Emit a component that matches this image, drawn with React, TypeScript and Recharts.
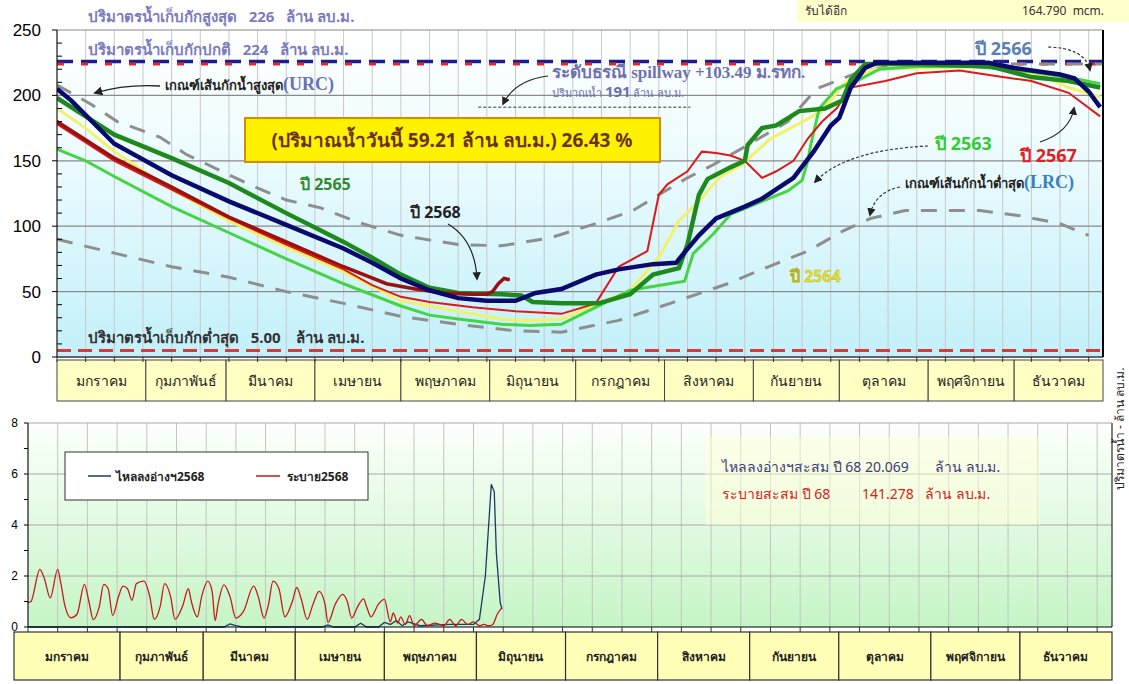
import React from 'react';
import { ComposedChart, Line, XAxis, YAxis, CartesianGrid, ReferenceLine } from 'recharts';

// months (day-of-year axis)
const monthNames = ['มกราคม', 'กุมภาพันธ์', 'มีนาคม', 'เมษายน', 'พฤษภาคม', 'มิถุนายน', 'กรกฎาคม', 'สิงหาคม', 'กันยายน', 'ตุลาคม', 'พฤศจิกายน', 'ธันวาคม'];
const monthStarts = [0, 31, 59, 90, 120, 151, 181, 212, 243, 273, 304, 334, 365];
const monthMids = monthStarts.slice(0, 12).map((s, i) => (s + monthStarts[i + 1]) / 2);

// storage, million m3
const days2563 = [0, 10, 20, 40, 60, 80, 100, 120, 130, 140, 155, 165, 176, 200, 219, 222, 229, 235, 246, 255, 260, 262, 263, 266, 272, 280, 287, 300, 320, 340, 355, 364];
const vol2563 = [159, 150, 138, 115, 95, 75, 56, 39, 32, 29, 25, 24, 25, 51, 58, 79, 94, 109, 119, 127, 135, 150, 162, 190, 205, 212, 220, 222, 222, 218, 213, 209];

const days2564 = [0, 10, 20, 40, 60, 80, 100, 120, 140, 155, 165, 176, 189, 200, 210, 217, 224, 231, 239, 249, 256, 267, 275, 285, 300, 330, 345, 353, 364];
const vol2564 = [190, 175, 157, 128, 104, 84, 65, 43, 35, 29, 28, 29, 41, 51, 76, 104, 119, 137, 147, 167, 175, 188, 210, 220, 221, 222, 214, 206, 199];

const days2565 = [0, 10, 20, 40, 60, 80, 100, 110, 120, 130, 140, 155, 162, 166, 176, 189, 200, 208, 217, 220, 224, 227, 235, 240, 241, 246, 251, 259, 268, 274, 277, 282, 300, 326, 340, 353, 364];
const vol2565 = [198, 184, 170, 152, 133, 110, 88, 76, 63, 53, 49, 48, 47, 42, 41, 41, 48, 63, 68, 86, 124, 136, 145, 150, 162, 175, 177, 188, 190, 196, 212, 224, 224, 222, 214, 211, 206];

const days2566 = [0, 5, 20, 40, 60, 80, 100, 110, 120, 130, 140, 150, 160, 167, 176, 188, 196, 208, 216, 219, 224, 230, 240, 246, 257, 264, 270, 273, 277, 282, 286, 300, 325, 334, 350, 355, 360, 364];
const vol2566 = [205, 196, 163, 139, 119, 101, 83, 72, 60, 51, 45, 43, 43, 49, 52, 63, 67, 71, 72, 80, 93, 106, 115, 121, 137, 157, 177, 183, 206, 221, 225, 225, 225, 221, 216, 213, 203, 191];

const days2567 = [0, 20, 40, 60, 80, 100, 110, 120, 130, 145, 160, 176, 188, 196, 206, 210, 213, 220, 225, 230, 235, 240, 246, 251, 257, 262, 267, 272, 277, 289, 300, 315, 327, 340, 353, 364];
const vol2567 = [178, 150, 128, 106, 86, 67, 55, 46, 42, 38, 35, 33, 41, 69, 81, 124, 132, 142, 157, 156, 154, 150, 137, 142, 150, 167, 180, 190, 206, 211, 217, 219, 215, 211, 202, 184];

const days2568 = [0, 20, 40, 60, 80, 100, 115, 125, 135, 145, 150, 152, 154, 156, 158];
const vol2568 = [180, 152, 130, 107, 88, 69, 56, 52, 49, 48, 48, 50, 56, 60, 59];

// rule curves
const daysUrc = [0, 12, 21, 36, 45, 67, 80, 92, 105, 120, 140, 155, 172, 188, 201, 210, 220, 229, 241, 255, 265, 280, 295, 365];
const volUrc = [208, 193, 180, 168, 155, 132, 120, 114, 103, 93, 86, 85, 91, 102, 112, 124, 137, 147, 162, 180, 205, 218, 224, 224];
const daysLrc = [0, 17, 40, 60, 80, 100, 120, 140, 160, 176, 196, 214, 234, 246, 262, 274, 284, 296, 308, 322, 336, 350, 360];
const volLrc = [90, 81, 69, 61, 50, 41, 31, 25, 20, 19, 28, 41, 56, 67, 81, 96, 106, 112, 112, 112, 108, 102, 93];

// daily flow 2568, million m3
const daysOut = [0, 1, 4, 5.5, 7.5, 10, 11, 12.5, 14.5, 16.5, 19, 20.5, 22, 24, 25.5, 27, 28.5, 30.5, 32, 33.5, 35, 36.5, 39, 41, 42.5, 44.5, 46, 48, 49.5, 52, 54, 55, 57, 58.5, 60.5, 62, 63, 64, 66, 68, 70, 72.5, 76, 77.5, 79.5, 81, 82.5, 84.5, 86.5, 89, 90.5, 92, 94, 96, 98, 100, 101, 103.5, 106, 107.5, 109, 111, 113, 114, 115.5, 118, 120, 122, 123, 124.5, 125.5, 127, 128.5, 130, 132.5, 134.5, 137, 140, 142, 144, 146, 148, 150, 152, 153.5, 155, 156.5, 158, 159.5];
const flowOut = [0.95, 1.0, 2.26, 1.9, 1.14, 2.26, 1.75, 0.8, 0.36, 0.5, 1.67, 1.0, 0.29, 0.8, 1.67, 1.5, 0.45, 1.2, 1.6, 1.5, 1.05, 1.7, 1.8, 1.2, 0.3, 0.8, 1.7, 1.2, 0.3, 0.8, 1.5, 1.0, 0.4, 1.2, 1.8, 1.4, 0.25, 0.9, 1.65, 1.2, 0.35, 0.6, 1.6, 1.2, 0.35, 0.9, 1.8, 1.5, 0.4, 1.0, 1.55, 1.1, 0.3, 0.9, 1.4, 0.9, 0.18, 0.9, 1.28, 1.0, 0.35, 0.8, 1.1, 0.8, 0.4, 0.9, 1.08, 0.2, 0.55, 0.15, 0.4, 0.1, 0.45, 0.05, 0.3, 0.05, 0.15, 0.05, 0.3, 0.05, 0.3, 0.1, 0.2, 0.05, 0.1, 0.05, 0.1, 0.5, 0.75, 0.78, 0.6];
const daysIn = [0, 66, 68, 70, 72, 99, 101, 103, 110, 112, 114, 118, 120, 122, 124, 126, 128, 132, 142, 150, 152, 154, 156, 157, 157.7, 159, 159.6];
const flowIn = [0, 0, 0.12, 0.05, 0, 0, 0.08, 0, 0, 0.15, 0, 0, 0.18, 0.1, 0.25, 0.05, 0.2, 0.05, 0.1, 0.1, 0.3, 2.0, 5.6, 5.3, 2.9, 0.95, 0.7];

const pts = (d: number[], v: number[]) => d.map((x, i) => ({ d: x, v: v[i] }));

const THAI = "Tahoma, 'Noto Sans', 'DejaVu Sans', sans-serif";
const SERIF = "'Liberation Serif', 'DejaVu Serif', serif";
const PRE = { whiteSpace: 'pre' as const };

// top chart frame
const TOP_LEFT = 57;
const TOP_RIGHT_W = 26;
const TOP_MARGIN = 30;
const TOP_H = 405;
const TOP_AXIS_H = 48;
const TOP_BOTTOM = TOP_H - TOP_AXIS_H; // 357
const TOP_PX_DAY = (1129 - TOP_LEFT - TOP_RIGHT_W) / 365;

// bottom chart frame
const BOT_TOP = 410;
const BOT_LEFT = 28;
const BOT_RIGHT_M = 17;
const BOT_MARGIN = 13;
const BOT_H = 274;
const BOT_AXIS_H = 57;
const BOT_BOTTOM = BOT_H - BOT_AXIS_H; // 217 (chart coords)
const BOT_PX_DAY = (1129 - BOT_LEFT - BOT_RIGHT_M) / 365;

const gridX = ({ offset }: any) => {
  const out: number[] = [];
  for (let d = 0; d <= 365; d += 10) out.push(offset.left + (d * offset.width) / 365);
  return out;
};

// small ticks every 10 days under the axis line, inside one month
const tenDayTicks = (i: number, x0: number, pxDay: number, y: number) => {
  const out: React.ReactNode[] = [];
  for (let d = Math.ceil(monthStarts[i] / 10) * 10; d < monthStarts[i + 1]; d += 10) {
    const xx = x0 + (d - monthStarts[i]) * pxDay;
    out.push(<line key={d} x1={xx} x2={xx} y1={y} y2={y + 5} stroke="#333" />);
  }
  return out;
};

const TopMonthTick = (props: any) => {
  const { x, payload } = props;
  const i = monthMids.indexOf(payload.value);
  const w = (monthStarts[i + 1] - monthStarts[i]) * TOP_PX_DAY;
  return (
    <g>
      <rect x={x - w / 2} y={TOP_BOTTOM + 3} width={w} height={41} fill="#ffffc4" stroke="#444" strokeWidth={1} />
      {tenDayTicks(i, x - w / 2, TOP_PX_DAY, TOP_BOTTOM)}
      <text x={x} y={TOP_BOTTOM + 29} textAnchor="middle" fontSize={14} fill="#222" fontFamily={THAI}>{monthNames[i]}</text>
    </g>
  );
};

const BotMonthTick = (props: any) => {
  const { x, payload } = props;
  const i = monthMids.indexOf(payload.value);
  const w = (monthStarts[i + 1] - monthStarts[i]) * BOT_PX_DAY;
  const x0 = i === 0 ? 14 : x - w / 2;
  const x1 = x + w / 2;
  return (
    <g>
      {tenDayTicks(i, x - w / 2, BOT_PX_DAY, BOT_BOTTOM)}
      <rect x={x0} y={BOT_BOTTOM + 5} width={x1 - x0} height={48} fill="#ffffb8" stroke="#333" strokeWidth={1.2} />
      <text x={(x0 + x1) / 2} y={BOT_BOTTOM + 34} textAnchor="middle" fontSize={12} fontWeight="bold" fill="#222" fontFamily={THAI}>{monthNames[i]}</text>
    </g>
  );
};

const TopLeftTick = (props: any) => {
  const { y, payload } = props;
  const v = payload.value;
  if (v % 50 === 0) {
    return (
      <g>
        <line x1={TOP_LEFT - 5} x2={TOP_LEFT} y1={y} y2={y} stroke="#000" />
        <text x={TOP_LEFT - 16} y={y + 6} textAnchor="end" fontSize={17} fill="#000" fontFamily="'Liberation Sans', Arial, sans-serif">{v}</text>
      </g>
    );
  }
  return <line x1={TOP_LEFT} x2={TOP_LEFT + 5} y1={y} y2={y} stroke="#000" />;
};

const TopRightTick = (props: any) => {
  const { y, payload } = props;
  const x0 = 1129 - TOP_RIGHT_W;
  return (
    <g>
      <line x1={x0 - 4} x2={x0 + 4} y1={y} y2={y} stroke="#000" />
      <text x={x0 + 8} y={y + 4} fontSize={10} fill="#222" fontFamily={SERIF}>{payload.value}</text>
    </g>
  );
};

const BotLeftTick = (props: any) => {
  const { y, payload } = props;
  const v = payload.value;
  if (v % 2 === 0) {
    return (
      <g>
        <line x1={BOT_LEFT - 4} x2={BOT_LEFT} y1={y} y2={y} stroke="#000" />
        <text x={BOT_LEFT - 10} y={y + 4} textAnchor="end" fontSize={12} fill="#000" fontFamily="'Liberation Sans', Arial, sans-serif">{v}</text>
      </g>
    );
  }
  return <line x1={BOT_LEFT - 4} x2={BOT_LEFT} y1={y} y2={y} stroke="#000" />;
};

const StorageChart = () => (
  <ComposedChart width={1129} height={TOP_H} margin={{ top: TOP_MARGIN, right: 0, bottom: 0, left: 0 }}>
    <CartesianGrid horizontal={false} stroke="#c9c9c9" verticalCoordinatesGenerator={gridX} />
    <XAxis dataKey="d" type="number" domain={[0, 365]} ticks={monthMids} interval={0} height={TOP_AXIS_H}
      tick={<TopMonthTick />} tickLine={false} axisLine={{ stroke: '#666', strokeWidth: 2 }} allowDataOverflow />
    <YAxis type="number" domain={[0, 250]} ticks={Array.from({ length: 26 }, (_, i) => i * 10)} interval={0}
      width={TOP_LEFT} tick={<TopLeftTick />} tickLine={false} axisLine={{ stroke: '#000' }} />
    <YAxis yAxisId="r" orientation="right" type="number" domain={[0, 250]} ticks={[0, 50, 100, 150, 200, 250]}
      width={TOP_RIGHT_W} tick={<TopRightTick />} tickLine={false} axisLine={{ stroke: '#000', strokeWidth: 2 }} />
    {[50, 100, 150, 200, 250].map((v) => (
      <ReferenceLine key={v} y={v} stroke="#8a8a8a" strokeWidth={1.2} />
    ))}
    <ReferenceLine y={226} stroke="#1c1c8c" strokeWidth={3.5} strokeDasharray="16 8" />
    <ReferenceLine y={224} stroke="#e02828" strokeWidth={3} strokeDasharray="7 17" />
    <ReferenceLine y={5} stroke="#d83a3a" strokeWidth={3} strokeDasharray="14 7" />
    <ReferenceLine segment={[{ x: 147, y: 191 }, { x: 221, y: 191 }]} stroke="#333" strokeDasharray="3 2" />
    <Line data={pts(daysUrc, volUrc)} dataKey="v" stroke="#8e8e8e" strokeWidth={3} strokeDasharray="16 12" dot={false} isAnimationActive={false} />
    <Line data={pts(daysLrc, volLrc)} dataKey="v" stroke="#8e8e8e" strokeWidth={3} strokeDasharray="16 12" dot={false} isAnimationActive={false} />
    <Line data={pts(days2564, vol2564)} dataKey="v" stroke="#f2f26a" strokeWidth={3} dot={false} isAnimationActive={false} />
    <Line data={pts(days2563, vol2563)} dataKey="v" stroke="#44d444" strokeWidth={3} dot={false} isAnimationActive={false} />
    <Line data={pts(days2567, vol2567)} dataKey="v" stroke="#e01818" strokeWidth={2} dot={false} isAnimationActive={false} />
    <Line data={pts(days2565, vol2565)} dataKey="v" stroke="#1e8a1e" strokeWidth={4.5} dot={false} isAnimationActive={false} />
    <Line data={pts(days2568, vol2568)} dataKey="v" stroke="#9b1010" strokeWidth={3.5} dot={false} isAnimationActive={false} />
    <Line data={pts(days2566, vol2566)} dataKey="v" stroke="#0a0a6e" strokeWidth={4.5} dot={false} isAnimationActive={false} />
  </ComposedChart>
);

const FlowChart = () => (
  <ComposedChart width={1129} height={BOT_H} margin={{ top: BOT_MARGIN, right: BOT_RIGHT_M, bottom: 0, left: 0 }}>
    <CartesianGrid horizontal={false} stroke="#c4c4c4" verticalCoordinatesGenerator={gridX} />
    <XAxis dataKey="d" type="number" domain={[0, 365]} ticks={monthMids} interval={0} height={BOT_AXIS_H}
      tick={<BotMonthTick />} tickLine={false} axisLine={{ stroke: '#000' }} allowDataOverflow />
    <YAxis type="number" domain={[0, 8]} ticks={[0, 1, 2, 3, 4, 5, 6, 7, 8]} interval={0}
      width={BOT_LEFT} tick={<BotLeftTick />} tickLine={false} axisLine={{ stroke: '#000' }} />
    {[2, 4, 6, 8].map((v) => (
      <ReferenceLine key={v} y={v} stroke="#a8a8a8" />
    ))}
    <ReferenceLine x={365} stroke="#555" strokeWidth={1.5} />
    <Line data={pts(daysIn, flowIn)} dataKey="v" stroke="#1d3a66" strokeWidth={1.3} dot={false} isAnimationActive={false} />
    <Line data={pts(daysOut, flowOut)} dataKey="v" type="monotone" stroke="#c41a1a" strokeWidth={1.3} dot={false} isAnimationActive={false} />
  </ComposedChart>
);

const Notes = () => (
  <svg width={1129} height={684} style={{ position: 'absolute', left: 0, top: 0, pointerEvents: 'none' }}>
    <defs>
      <marker id="ah" viewBox="0 0 10 10" refX="8" refY="5" markerWidth="7" markerHeight="7" orient="auto-start-reverse">
        <path d="M0,0 L10,5 L0,10 z" fill="#222" />
      </marker>
    </defs>
    {/* header */}
    <text x={88} y={22} fontSize={15} fontWeight="bold" fill="#7b7bbd" fontFamily={THAI} style={PRE}>ปริมาตรน้ำเก็บกักสูงสุด   226   ล้าน ลบ.ม.</text>
    <text x={88} y={55} fontSize={15} fontWeight="bold" fill="#7b7bbd" fontFamily={THAI} style={PRE}>ปริมาตรน้ำเก็บกักปกติ   224   ล้าน ลบ.ม.</text>
    <text x={88} y={343} fontSize={15} fontWeight="bold" fill="#333" fontFamily={THAI} style={PRE}>ปริมาตรน้ำเก็บกักต่ำสุด   5.00    ล้าน ลบ.ม.</text>
    <rect x={797} y={-4} width={332} height={26} fill="#ffffcc" />
    <text x={805} y={15} fontSize={12} fill="#333" fontFamily={THAI}>รับได้อีก</text>
    <text x={1022} y={15} fontSize={12} fill="#333" fontFamily={THAI} style={PRE}>164.790  mcm.</text>
    {/* today box */}
    <rect x={245} y={118} width={415} height={44} fill="#fff200" stroke="#d88a00" strokeWidth={2} />
    <text x={452} y={147} textAnchor="middle" fontSize={19} fontWeight="bold" fill="#6a3010" fontFamily={THAI}>(ปริมาณน้ำวันนี้ 59.21 ล้าน ลบ.ม.) 26.43 %</text>
    {/* rule curve notes */}
    <text x={165} y={90} fontSize={13} fontWeight="bold" fill="#222" fontFamily={THAI}>เกณฑ์เส้นกักน้ำสูงสุด<tspan fontSize={18} fill="#6a70b5" fontFamily={SERIF}>(URC)</tspan></text>
    <path d="M160,86 Q125,84 95,93" fill="none" stroke="#222" strokeWidth={1.3} markerEnd="url(#ah)" />
    <text x={905} y={188} fontSize={13} fontWeight="bold" fill="#222" fontFamily={THAI}>เกณฑ์เส้นกักน้ำต่ำสุด<tspan fontSize={18} fill="#3a7fc0" fontFamily={SERIF}>(LRC)</tspan></text>
    <path d="M900,187 Q875,192 870,215" fill="none" stroke="#333" strokeWidth={1.2} strokeDasharray="3 2" markerEnd="url(#ah)" />
    {/* spillway */}
    <text x={552} y={78} fontSize={17} fontWeight="bold" fill="#7070b0" fontFamily={SERIF}>ระดับธรณี spillway +103.49 ม.รทก.</text>
    <text x={552} y={97} fontSize={11} fill="#7070b0" fontFamily={THAI}>ปริมาณน้ำ <tspan fontSize={15} fontWeight="bold">191</tspan> ล้าน ลบ.ม.</text>
    <path d="M548,76 Q515,80 503,104" fill="none" stroke="#222" strokeWidth={1.2} markerEnd="url(#ah)" />
    {/* year labels */}
    <text x={300} y={190} fontSize={16} fontWeight="bold" fill="#2e8b2e" fontFamily={THAI}>ปี 2565</text>
    <text x={410} y={218} fontSize={16} fontWeight="bold" fill="#222" fontFamily={THAI}>ปี 2568</text>
    <path d="M448,224 Q475,240 477,279" fill="none" stroke="#222" strokeWidth={1.2} markerEnd="url(#ah)" />
    <text x={935} y={150} fontSize={18} fontWeight="bold" fill="#33cc33" fontFamily={THAI}>ปี 2563</text>
    <path d="M928,146 Q845,150 815,182" fill="none" stroke="#333" strokeWidth={1.2} strokeDasharray="3 2" markerEnd="url(#ah)" />
    <text x={1020} y={162} fontSize={18} fontWeight="bold" fill="#e02020" fontFamily={THAI}>ปี 2567</text>
    <path d="M1040,142 Q1070,132 1074,108" fill="none" stroke="#222" strokeWidth={1.2} markerEnd="url(#ah)" />
    <text x={975} y={55} fontSize={18} fontWeight="bold" fill="#5a7fb5" fontFamily={THAI}>ปี 2566</text>
    <path d="M1048,47 Q1085,48 1090,70" fill="none" stroke="#333" strokeWidth={1.2} strokeDasharray="3 2" markerEnd="url(#ah)" />
    <text x={790} y={282} fontSize={16} fontWeight="bold" fill="#e6e033" stroke="#b8b020" strokeWidth={0.4} fontFamily={THAI}>ปี 2564</text>
    {/* flow legend */}
    <rect x={65} y={452} width={303} height={48} fill="#fff" stroke="#333" />
    <line x1={88} x2={111} y1={476} y2={476} stroke="#1d3a66" strokeWidth={1.5} />
    <text x={116} y={481} fontSize={12} fontWeight="bold" fill="#222" fontFamily={THAI}>ไหลลงอ่างฯ2568</text>
    <line x1={256} x2={280} y1={476} y2={476} stroke="#c41a1a" strokeWidth={1.5} />
    <text x={287} y={481} fontSize={12} fontWeight="bold" fill="#222" fontFamily={THAI}>ระบาย2568</text>
    {/* cumulative */}
    <rect x={705} y={437} width={335} height={88} fill="#ffffd8" opacity={0.5} />
    <text x={722} y={472} fontSize={14} fill="#3a3a7a" fontFamily={THAI}>ไหลลงอ่างฯสะสม ปี 68 20.069</text>
    <text x={935} y={472} fontSize={14} fill="#3a3a7a" fontFamily={THAI}>ล้าน ลบ.ม.</text>
    <text x={722} y={499} fontSize={14} fill="#d42020" fontFamily={THAI}>ระบายสะสม ปี 68</text>
    <text x={862} y={499} fontSize={14} fill="#d42020" fontFamily={THAI}>141.278</text>
    <text x={925} y={499} fontSize={14} fill="#d42020" fontFamily={THAI}>ล้าน ลบ.ม.</text>
    <text transform="translate(1124,490) rotate(-90)" fontSize={12} fill="#222" fontFamily={THAI}>ปริมาตรน้ำ - ล้าน ลบ.ม.</text>
  </svg>
);

export default function App() {
  return (
    <div style={{ position: 'absolute', left: 0, top: 0, width: 1129, height: 684, background: '#fff', overflow: 'hidden' }}>
      <div style={{ position: 'absolute', left: TOP_LEFT, top: TOP_MARGIN, width: 1129 - TOP_LEFT - TOP_RIGHT_W, height: TOP_BOTTOM - TOP_MARGIN,
        background: 'linear-gradient(to bottom, #ffffff 0%, #eefcfe 35%, #c2f0fa 100%)' }} />
      <div style={{ position: 'absolute', left: BOT_LEFT, top: BOT_TOP + BOT_MARGIN, width: 1129 - BOT_LEFT - BOT_RIGHT_M, height: BOT_BOTTOM - BOT_MARGIN,
        background: 'linear-gradient(to bottom, #fcfffc 0%, #e6fbe6 40%, #c6f5c6 100%)' }} />
      <div style={{ position: 'absolute', left: 0, top: 0 }}>
        <StorageChart />
      </div>
      <div style={{ position: 'absolute', left: 0, top: BOT_TOP }}>
        <FlowChart />
      </div>
      <Notes />
    </div>
  );
}
